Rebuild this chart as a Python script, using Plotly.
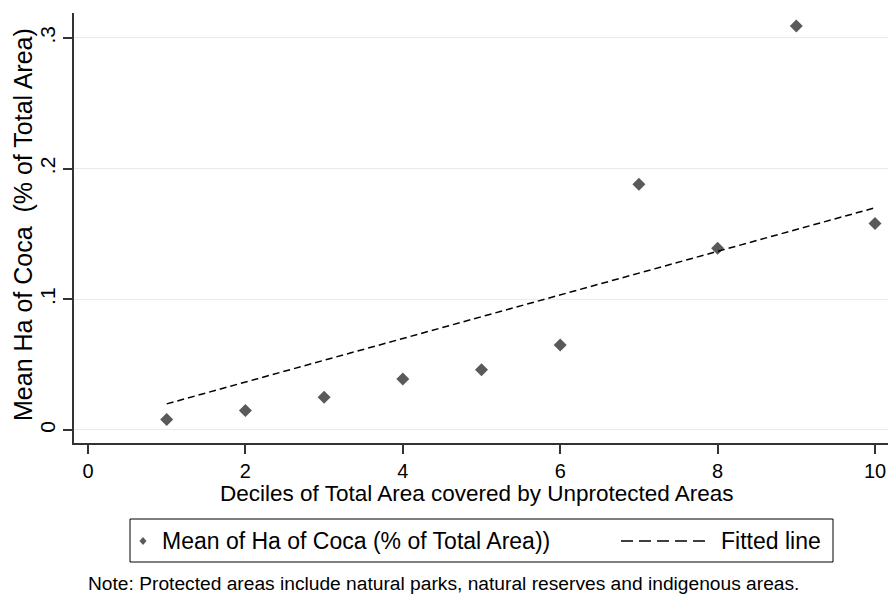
import plotly.graph_objects as go

# Deciles of total area covered by unprotected areas
deciles = [1, 2, 3, 4, 5, 6, 7, 8, 9, 10]
# Mean hectares of coca as share of total area, by decile
mean_coca = [0.008, 0.015, 0.025, 0.039, 0.046, 0.065, 0.188, 0.139, 0.309, 0.158]
# Fitted regression line (end points)
fit_x = [1, 10]
fit_y = [0.020, 0.170]

x_ticks = [0, 2, 4, 6, 8, 10]
y_ticks = [0, 0.1, 0.2, 0.3]
y_tick_labels = ["0", ".1", ".2", ".3"]

series_name = "Mean of Ha of Coca (% of Total Area))"
fit_name = "Fitted line"

FONT = "Liberation Sans, Arial, sans-serif"
AXIS = "#333333"
MARKER = "#5a5a5a"

# plot area in pixels, used to place the legend box in paper units
W, H = 891, 595
L, R, T, B = 74, 3, 13, 152
PW, PH = W - L - R, H - T - B


def px(xp):
    return (xp - L) / PW


def py(yp):
    return (H - B - yp) / PH


fig = go.Figure()
fig.add_trace(go.Scatter(
    x=deciles, y=mean_coca, mode="markers", name=series_name,
    marker=dict(symbol="diamond", size=10, color=MARKER),
))
fig.add_trace(go.Scatter(
    x=fit_x, y=fit_y, mode="lines", name=fit_name,
    line=dict(color="black", width=1.5, dash="7px,4px"),
))

fig.update_layout(
    width=W, height=H,
    margin=dict(l=L, r=R, t=T, b=B),
    paper_bgcolor="white", plot_bgcolor="white",
    font=dict(family=FONT, color="black"),
    showlegend=False,
)

fig.update_xaxes(
    range=[-0.178, 10.165], tickvals=x_ticks,
    showgrid=False, zeroline=False,
    showline=True, linecolor=AXIS, linewidth=2,
    ticks="outside", ticklen=9, tickwidth=1.5, tickcolor=AXIS,
    tickfont=dict(size=20, family=FONT, color="black"),
)
fig.update_yaxes(
    range=[-0.00995, 0.319], tickvals=y_ticks, ticktext=y_tick_labels,
    tickangle=-90,
    showgrid=True, gridcolor="#eaeaea", gridwidth=1, zeroline=False,
    showline=True, linecolor=AXIS, linewidth=2,
    ticks="outside", ticklen=9, tickwidth=1.5, tickcolor=AXIS,
    tickfont=dict(size=21, family=FONT, color="black"),
)

# axis titles and note
fig.add_annotation(
    text="Deciles of Total Area covered by Unprotected Areas",
    xref="paper", yref="paper", x=0.495, y=py(493),
    xanchor="center", yanchor="middle", showarrow=False,
    font=dict(size=22.5, family=FONT, color="black"),
)
fig.add_annotation(
    text="Mean Ha of Coca \u00a0(% of Total Area)",
    xref="paper", yref="paper", x=px(23), y=0.507,
    xanchor="center", yanchor="middle", textangle=-90, showarrow=False,
    font=dict(size=25, family=FONT, color="black"),
)
fig.add_annotation(
    text="Note: Protected areas include natural parks, natural reserves and indigenous areas.",
    xref="paper", yref="paper", x=px(86), y=py(583),
    xanchor="left", yanchor="middle", showarrow=False,
    font=dict(size=19.2, family=FONT, color="black"),
)

# legend box below the x-axis title
leg_y = py(541)
fig.add_shape(
    type="rect", xref="paper", yref="paper",
    x0=px(130), x1=px(833), y0=py(562), y1=py(519),
    line=dict(color="black", width=1), fillcolor="white",
)
fig.add_shape(
    type="path", xref="paper", yref="paper",
    xsizemode="pixel", ysizemode="pixel",
    xanchor=px(143), yanchor=leg_y,
    path="M 0 4 L 3.5 0 L 0 -4 L -3.5 0 Z",
    line=dict(width=0), fillcolor=MARKER,
)
fig.add_annotation(
    text=series_name, xref="paper", yref="paper", x=px(160), y=leg_y,
    xanchor="left", yanchor="middle", showarrow=False,
    font=dict(size=23, family=FONT, color="black"),
)
fig.add_shape(
    type="line", xref="paper", yref="paper",
    x0=px(621), x1=px(707), y0=leg_y, y1=leg_y,
    line=dict(color="black", width=1.5, dash="12px,6px"),
)
fig.add_annotation(
    text=fit_name, xref="paper", yref="paper", x=px(719), y=leg_y,
    xanchor="left", yanchor="middle", showarrow=False,
    font=dict(size=23, family=FONT, color="black"),
)

fig.write_html("out.html")
